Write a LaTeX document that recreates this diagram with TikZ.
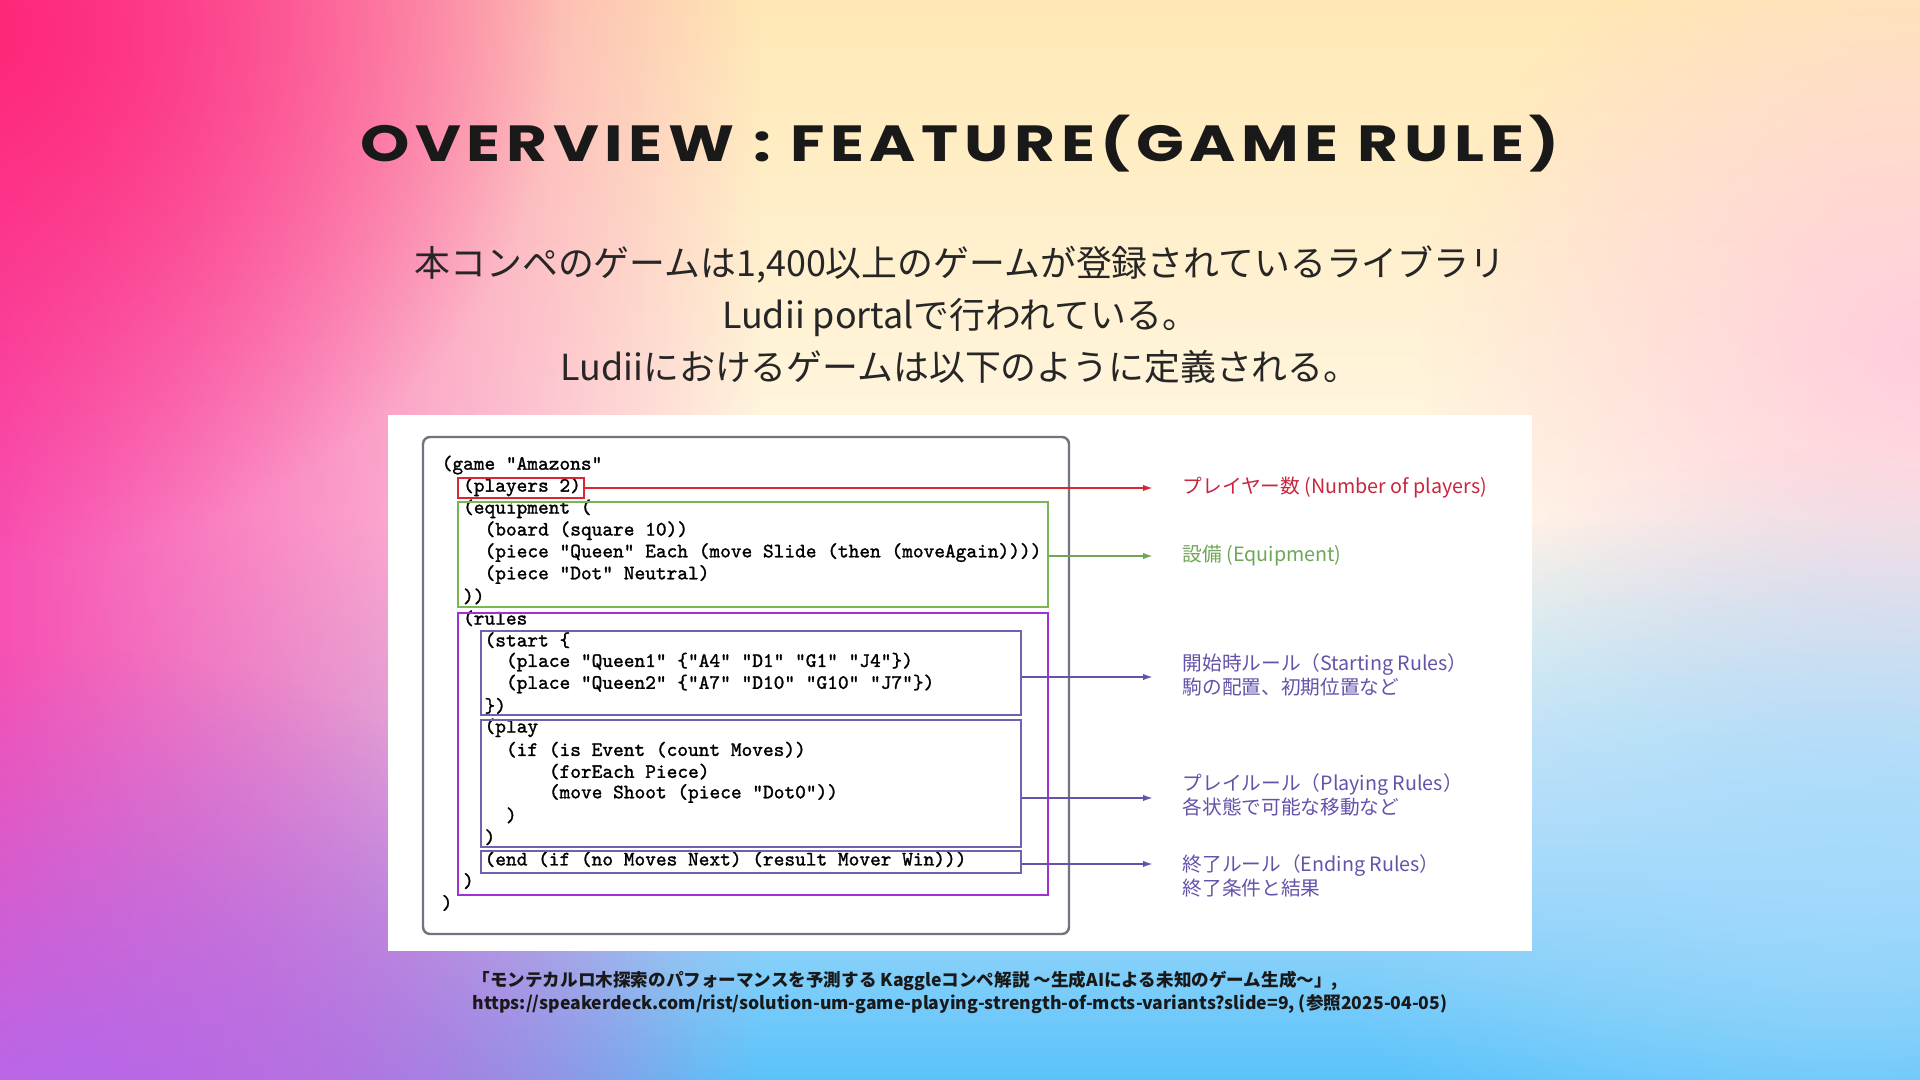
\documentclass[tikz,border=0pt]{standalone}
\usepackage{graphicx}
\usepackage{fontspec}
\usepackage{tikz}
\usetikzlibrary{positioning,fit,arrows.meta,fadings}
\newfontfamily\jp{Noto Sans CJK JP}
\newfontfamily\ttlfont{Poppins}[LetterSpace=9]
\newfontfamily\codefont{lmmono10-regular.otf}[FakeBold=1.4]

\definecolor{bgtop}{RGB}{255,232,180}
\definecolor{bgcream}{RGB}{255,248,232}
\definecolor{bgsky}{RGB}{182,222,250}
\definecolor{bgbot}{RGB}{90,195,250}
\definecolor{pinkL}{RGB}{248,80,178}
\definecolor{hotpink}{RGB}{255,38,118}
\definecolor{purpleB}{RGB}{178,105,238}
\definecolor{lilac}{RGB}{255,196,222}
\definecolor{skyR}{RGB}{165,218,252}
\definecolor{boxred}{RGB}{215,40,52}
\definecolor{boxgreen}{RGB}{122,182,82}
\definecolor{boxmag}{RGB}{160,50,212}
\definecolor{boxblue}{RGB}{112,98,176}
\definecolor{boxgray}{RGB}{112,116,126}
\definecolor{labred}{RGB}{200,38,62}
\definecolor{labgreen}{RGB}{112,166,88}
\definecolor{labpurple}{RGB}{102,82,170}

\tikzfading[name=fadeR, left color=transparent!0, right color=transparent!100]
\tikzfading[name=glow, inner color=transparent!0, outer color=transparent!100]

\tikzset{
  code/.style={anchor=west, inner sep=0pt, font=\codefont\fontsize{5.8pt}{6pt}\selectfont},
  lab/.style={anchor=west, align=left, inner sep=0pt, font=\jp\fontsize{5.6pt}{6.8pt}\selectfont},
  part/.style={draw, inner sep=0pt, line width=0.6pt},
  ptr/.style={-{Latex[length=2.8pt,width=1.8pt]}, line width=0.5pt}
}

\begin{document}
\begin{tikzpicture}[x=0.01cm, y=-0.01cm]
\useasboundingbox (0,0) rectangle (1920,1080);
% background
\shade[top color=bgtop, bottom color=bgcream] (0,0) rectangle (1920,520);
\shade[top color=bgcream, bottom color=bgsky] (0,519) rectangle (1920,820);
\shade[top color=bgsky, bottom color=bgbot] (0,819) rectangle (1920,1080);
\fill[lilac, opacity=.8, path fading=glow] (1420,-100) rectangle (2420,800);
\fill[skyR, opacity=.8, path fading=glow] (1300,450) rectangle (2400,1250);
\fill[pinkL, path fading=fadeR] (0,0) rectangle (760,1080);
\fill[purpleB, path fading=glow] (-600,650) rectangle (700,1600);
\fill[hotpink, path fading=glow] (-600,-500) rectangle (560,560);

% title and text
\node[font=\ttlfont\bfseries, text=black!90] (ttl) at (960,144)
  {\resizebox{341pt}{13.2pt}{OVERVIEW : FEATURE(GAME RULE)}};
\node[align=center, font=\jp\fontsize{10.2pt}{14.8pt}\selectfont, text=black!85] (intro) at (960,315)
  {本コンペのゲームは1,400以上のゲームが登録されているライブラリ\\
   Ludii portalで行われている。\\
   Ludiiにおけるゲームは以下のように定義される。};

% figure panel
\fill[white] (388,415) rectangle (1532,951);
\draw[boxgray, line width=0.7pt, rounded corners=2pt] (423,437) rectangle (1069,934);

\node[code] (c1)  at (441,465)   {(game “Amazons”};
\node[code] (c2)  at (462.4,486.9) {(players 2)};
\node[code] (c3)  at (462.4,508.8) {(equipment (};
\node[code] (c4)  at (483.9,530.7) {(board (square 10))};
\node[code] (c5)  at (483.9,552.6) {(piece “Queen” Each (move Slide (then (moveAgain))))};
\node[code] (c6)  at (483.9,574.5) {(piece “Dot” Neutral)};
\node[code] (c7)  at (462.4,596.4) {))};
\node[code] (c8)  at (462.4,618.3) {(rules};
\node[code] (c9)  at (483.9,640.2) {(start \{};
\node[code] (c10) at (505.3,662.1) {(place “Queen1” \{“A4” “D1” “G1” “J4”\})};
\node[code] (c11) at (505.3,684)   {(place “Queen2” \{“A7” “D10” “G10” “J7”\})};
\node[code] (c12) at (483.9,705.9) {\})};
\node[code] (c13) at (483.9,727.8) {(play};
\node[code] (c14) at (505.3,749.7) {(if (is Event (count Moves))};
\node[code] (c15) at (548.2,771.6) {(forEach Piece)};
\node[code] (c16) at (548.2,793.5) {(move Shoot (piece “Dot0”))};
\node[code] (c17) at (505.3,815.4) {)};
\node[code] (c18) at (483.9,837.3) {)};
\node[code] (c19) at (483.9,859.2) {(end (if (no Moves Next) (result Mover Win)))};
\node[code] (c20) at (462.4,881.1) {)};
\node[code] (c21) at (441,903)     {)};

\node[part, boxred, fit={(458,478) (584,498)}] (players) {};
\node[part, boxgreen, fit={(458,502) (1048,607)}] (equip) {};
\node[part, boxmag, line width=0.7pt, fit={(458,613) (1048,895)}] (rules) {};
\node[part, boxblue, fit={(481,631) (1021,715)}] (start) {};
\node[part, boxblue, fit={(481,720) (1021,847)}] (play) {};
\node[part, boxblue, fit={(481,851) (1021,873)}] (finish) {};

% labels
\node[lab, text=labred] (lplayers) at (1182,488) {プレイヤー数 (Number of players)};
\node[lab, text=labgreen] (lequip) at (1182,556) {設備 (Equipment)};
\node[lab, text=labpurple] (lstart) at (1182,675) {開始時ルール（Starting Rules）\\駒の配置、初期位置など};
\node[lab, text=labpurple] (lplay) at (1182,795) {プレイルール（Playing Rules）\\各状態で可能な移動など};
\node[lab, text=labpurple] (lfinish) at (1182,876) {終了ルール（Ending Rules）\\終了条件と結果};

\coordinate (tPl) at (1153,488);
\coordinate (tEq) at (1153,556);
\coordinate (tSt) at (1153,677);
\coordinate (tPy) at (1153,798);
\coordinate (tFi) at (1153,864);
\draw[ptr, boxred] (players.east |- tPl) -- (tPl);
\draw[ptr, labgreen] (equip.east |- tEq) -- (tEq);
\draw[ptr, labpurple] (start.east |- tSt) -- (tSt);
\draw[ptr, labpurple] (play.east |- tPy) -- (tPy);
\draw[ptr, labpurple] (finish.east |- tFi) -- (tFi);

% source
\node[align=left, font=\jp\bfseries\fontsize{5pt}{6.5pt}\selectfont, text=black!90] (cite) at (960,992.5)
  {「モンテカルロ木探索のパフォーマンスを予測する Kaggleコンペ解説 ～生成AIによる未知のゲーム生成～」,\\
   https://speakerdeck.com/rist/solution-um-game-playing-strength-of-mcts-variants?slide=9, (参照2025-04-05)};
\end{tikzpicture}
\end{document}
